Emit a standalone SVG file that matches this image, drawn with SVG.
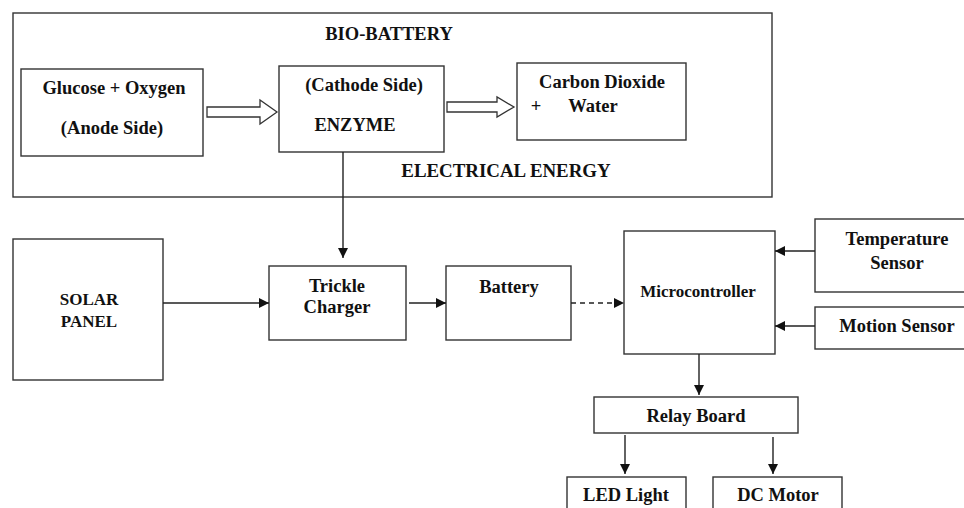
<svg xmlns="http://www.w3.org/2000/svg" width="964" height="508" viewBox="0 0 964 508">
<style>
.box{fill:#fff;stroke:#333;stroke-width:1.4}
.t{font-family:'Liberation Serif','DejaVu Serif',serif;font-weight:700;font-size:18.5px;fill:#111;text-anchor:middle}
.c{fill:none;stroke:#222;stroke-width:1.4}
.hol{fill:#fff;stroke:#333;stroke-width:1.3}
</style>
<defs>
<marker id="ah" viewBox="0 0 10 10" refX="10" refY="5" markerWidth="10" markerHeight="10" markerUnits="userSpaceOnUse" orient="auto">
<path d="M0,0 L10,5 L0,10 Z" fill="#111"/>
</marker>
</defs>
<g id="bio-battery">
<rect class="box" x="13" y="13" width="759" height="184"/>
<text class="t" x="389" y="40">BIO-BATTERY</text>
<text class="t" x="506" y="177" style="font-size:18.9px">ELECTRICAL ENERGY</text>
</g>
<g id="glucose">
<rect class="box" x="21" y="69" width="182" height="87"/>
<text class="t" x="114" y="94">Glucose + Oxygen</text>
<text class="t" x="112" y="134">(Anode Side)</text>
</g>
<g id="enzyme">
<rect class="box" x="279" y="66" width="165" height="86"/>
<text class="t" x="364" y="91">(Cathode Side)</text>
<text class="t" x="355" y="131">ENZYME</text>
</g>
<g id="products">
<rect class="box" x="517" y="63" width="169" height="77"/>
<text class="t" x="602" y="88">Carbon Dioxide</text>
<text class="t" x="536" y="112">+</text>
<text class="t" x="593" y="112">Water</text>
</g>
<g id="solar">
<rect class="box" x="13" y="239" width="150" height="141"/>
<text class="t" x="89" y="305" style="font-size:17px">SOLAR</text>
<text class="t" x="89" y="327" style="font-size:17px">PANEL</text>
</g>
<g id="trickle">
<rect class="box" x="269" y="266" width="137" height="74"/>
<text class="t" x="337" y="292">Trickle</text>
<text class="t" x="337" y="313">Charger</text>
</g>
<g id="battery">
<rect class="box" x="446" y="266" width="125" height="74"/>
<text class="t" x="509" y="293">Battery</text>
</g>
<g id="micro">
<rect class="box" x="624" y="231" width="151" height="123"/>
<text class="t" x="698" y="297" style="font-size:17px">Microcontroller</text>
</g>
<g id="temp">
<rect class="box" x="815" y="219" width="152" height="73"/>
<text class="t" x="897" y="245">Temperature</text>
<text class="t" x="897" y="269">Sensor</text>
</g>
<g id="motion">
<rect class="box" x="815" y="307" width="152" height="42"/>
<text class="t" x="897" y="332">Motion Sensor</text>
</g>
<g id="relay">
<rect class="box" x="594" y="397" width="204" height="36"/>
<text class="t" x="696" y="422">Relay Board</text>
</g>
<g id="led">
<rect class="box" x="567" y="477" width="119" height="40"/>
<text class="t" x="626" y="501">LED Light</text>
</g>
<g id="motor">
<rect class="box" x="713" y="477" width="129" height="40"/>
<text class="t" x="778" y="501">DC Motor</text>
</g>
<g id="connectors">
<polygon class="hol" points="207,107 260,107 260,100 277,112 260,124 260,117 207,117"/>
<polygon class="hol" points="447,102 497,102 497,97 514,107 497,117 497,112 447,112"/>
<line class="c" x1="343" y1="152" x2="343" y2="258" marker-end="url(#ah)"/>
<line class="c" x1="163" y1="303" x2="269" y2="303" marker-end="url(#ah)"/>
<line class="c" x1="409" y1="303" x2="446" y2="303" marker-end="url(#ah)"/>
<line class="c" x1="571" y1="303" x2="624" y2="303" stroke-dasharray="5,4" marker-end="url(#ah)"/>
<line class="c" x1="815" y1="251" x2="775" y2="251" marker-end="url(#ah)"/>
<line class="c" x1="815" y1="326" x2="775" y2="326" marker-end="url(#ah)"/>
<line class="c" x1="699" y1="354" x2="699" y2="395" marker-end="url(#ah)"/>
<line class="c" x1="625" y1="435" x2="625" y2="474" marker-end="url(#ah)"/>
<line class="c" x1="773" y1="437" x2="773" y2="474" marker-end="url(#ah)"/>
</g>
</svg>
